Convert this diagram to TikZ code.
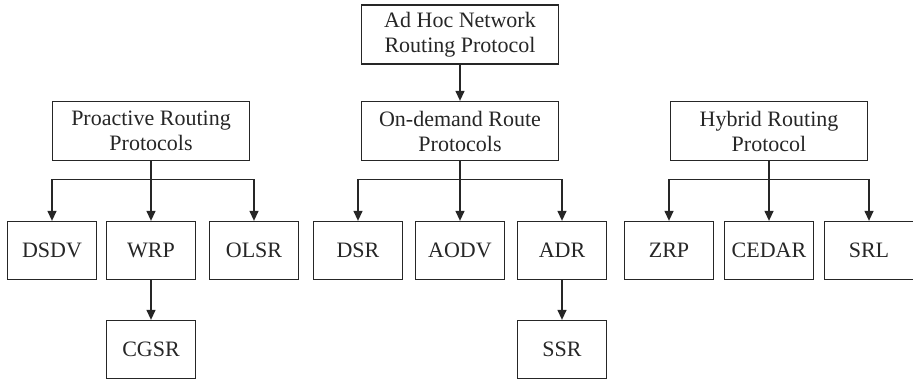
\documentclass[tikz,border=0pt]{standalone}
\usepackage{fontspec}
\setmainfont{Liberation Serif}
\usetikzlibrary{arrows.meta}
\begin{document}
\begin{tikzpicture}[x=1pt,y=-1pt,
  box/.style={draw, line width=1.3pt, align=center, inner sep=0pt,
    font=\fontsize{22}{25}\selectfont, color=black!85},
  catbox/.style={box, minimum width=197pt, minimum height=59pt},
  leaf/.style={box, minimum width=89pt, minimum height=58pt},
  arr/.style={line width=1.3pt, draw=black!85, -{Triangle[length=10pt,width=9pt]}}]
\useasboundingbox (0,0) rectangle (913,380);

% root and the three protocol families
\node[catbox] (root) at (460,34.5) {Ad Hoc Network\\Routing Protocol};
\node[catbox] (pro) at (151,131) {Proactive Routing\\Protocols};
\node[catbox] (ond) at (460,131) {On-demand Route\\Protocols};
\node[catbox] (hyb) at (769,131) {Hybrid Routing\\Protocol};

% individual protocols
\node[leaf] (dsdv) at (52,250.5) {DSDV};
\node[leaf] (wrp) at (151,250.5) {WRP};
\node[leaf] (olsr) at (254,250.5) {OLSR};
\node[leaf] (dsr) at (358,250.5) {DSR};
\node[leaf] (aodv) at (460,250.5) {AODV};
\node[leaf] (adr) at (562,250.5) {ADR};
\node[leaf] (zrp) at (669,250.5) {ZRP};
\node[leaf] (cedar) at (769,250.5) {CEDAR};
\node[leaf] (srl) at (869,250.5) {SRL};
\node[leaf] (cgsr) at (151,349.5) {CGSR};
\node[leaf] (ssr) at (562,349.5) {SSR};

% connectors
\draw[arr] (root) -- (ond);

\draw[arr] (pro.south) -- ++(0,18) -| (dsdv.north);
\draw[arr] (pro.south) -- (wrp.north);
\draw[arr] (pro.south) -- ++(0,18) -| (olsr.north);

\draw[arr] (ond.south) -- ++(0,18) -| (dsr.north);
\draw[arr] (ond.south) -- (aodv.north);
\draw[arr] (ond.south) -- ++(0,18) -| (adr.north);

\draw[arr] (hyb.south) -- ++(0,18) -| (zrp.north);
\draw[arr] (hyb.south) -- (cedar.north);
\draw[arr] (hyb.south) -- ++(0,18) -| (srl.north);

\draw[arr] (wrp) -- (cgsr);
\draw[arr] (adr) -- (ssr);
\end{tikzpicture}
\end{document}
